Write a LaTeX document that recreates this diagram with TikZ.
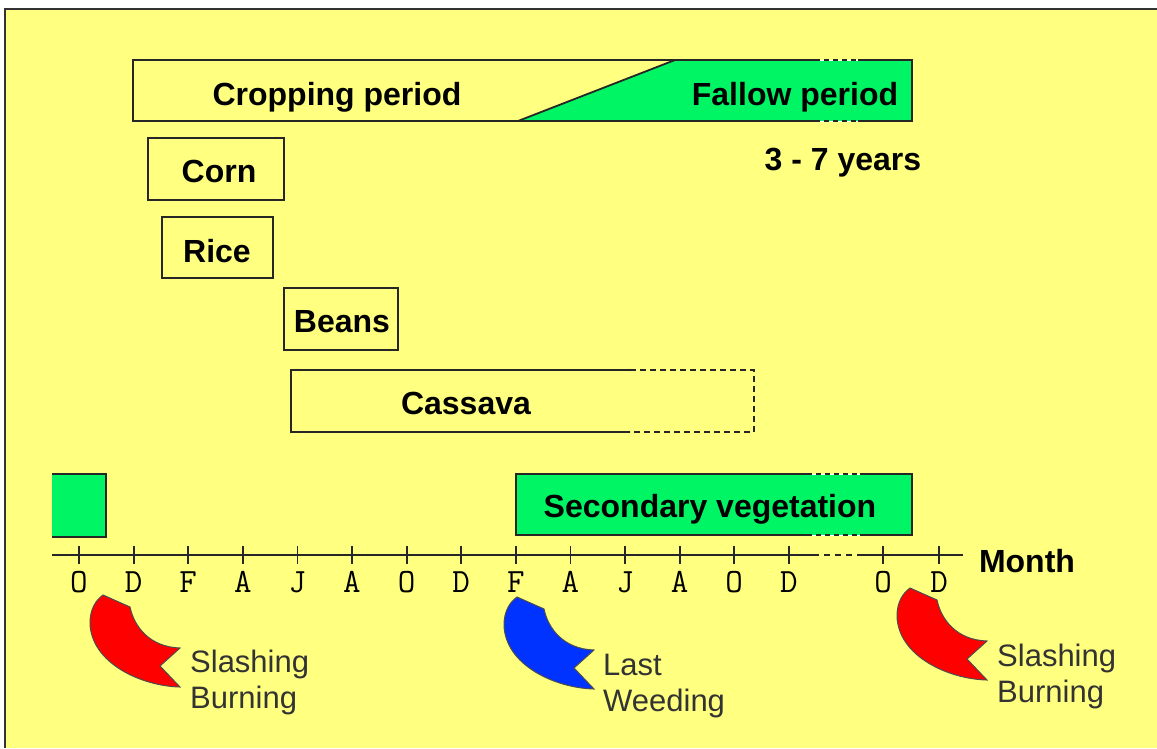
\documentclass[tikz,border=0pt]{standalone}
\usepackage{fontspec}
\setmainfont{Liberation Sans}
\usepackage{tikz}
\definecolor{paper}{RGB}{255,255,128}
\definecolor{fallow}{RGB}{0,245,100}
\definecolor{burnred}{RGB}{255,0,0}
\definecolor{weedblue}{RGB}{0,51,255}

\begin{document}
\begin{tikzpicture}[x=1pt, y=-1pt,
  big/.style={font=\fontsize{32}{38}\selectfont\bfseries, anchor=base},
  note/.style={font=\fontsize{31}{36}\selectfont, text=black!80, align=left, anchor=west, inner sep=0pt},
  month/.style={font=\ttfamily\fontsize{34}{40}\selectfont, anchor=base, inner sep=0pt},
  frame/.style={line width=1.8pt, black!85},
  breakline/.style={line width=1.8pt, black!85, dash pattern=on 5pt off 4pt,
    preaction={draw=white, solid}}]
  \useasboundingbox (0,0) rectangle (1157,748);
  \fill[white] (0,0) rectangle (1157,748);
  \fill[paper] (5,9) rectangle (1157,748);
  \draw[line width=2pt, black!80] (5,748) -- (5,9) -- (1157,9);

  % CROPPING / FALLOW — top bar
  \fill[fallow] (518,121) -- (675,60) -- (912,60) -- (912,121) -- cycle;
  \draw[frame] (518,121) -- (675,60);
  \draw[frame] (815,60) -- (133,60) -- (133,121) -- (815,121);
  \draw[frame] (858,60) -- (912,60) -- (912,121) -- (858,121);
  \draw[breakline] (815,60) -- (858,60) (815,121) -- (858,121);
  \node[big] (crop) at (337,105) {Cropping period};
  \node[big] (fallow) at (795,105) {Fallow period};
  \node[big] (years) at (843,170) {3 - 7 years};

  % CROPS
  \draw[frame] (148,138) rectangle (284,200);
  \node[big] (corn) at (219,182) {Corn};
  \draw[frame] (162,217) rectangle (273,278);
  \node[big] (rice) at (217,262) {Rice};
  \draw[frame] (284,288) rectangle (398,350);
  \node[big] (beans) at (342,332) {Beans};
  \draw[frame] (630,370) -- (291,370) -- (291,432) -- (630,432);
  \draw[frame, dash pattern=on 6pt off 4pt] (630,370) -- (754,370) -- (754,432) -- (630,432);
  \node[big] (cassava) at (466,414) {Cassava};

  % SECONDARY VEGETATION
  \fill[fallow] (52,474) rectangle (106,537);
  \draw[frame] (52,474) -- (106,474) -- (106,537) -- (52,537);
  \fill[fallow] (516,474) rectangle (912,535);
  \draw[frame] (807,474) -- (516,474) -- (516,535) -- (807,535);
  \draw[frame] (860,474) -- (912,474) -- (912,535) -- (860,535);
  \draw[breakline] (807,474) -- (860,474) (807,535) -- (860,535);
  \node[big] (secveg) at (710,517) {Secondary vegetation};

  % MONTH AXIS
  \draw[frame] (52,555) -- (813,555) (863,555) -- (963,555);
  \draw[frame, dash pattern=on 6pt off 5pt] (813,555) -- (863,555);
  \foreach \i in {0,...,13}
    \draw[frame] (79+54.6*\i,546) -- ++(0,18);
  \foreach \x in {883,939}
    \draw[frame] (\x,546) -- ++(0,18);
  \foreach \m [count=\i from 0] in {O,D,F,A,J,A,O,D,F,A,J,A,O,D}
    \node[month] (m\i) at (79+54.6*\i,592) {\m};
  \node[month] (m14) at (883,592) {O};
  \node[month] (m15) at (939,592) {D};
  \node[big] (month) at (1027,572) {Month};

  % EVENTS
  \foreach \c/\p in {burnred/{103,595}, weedblue/{517,597}, burnred/{910,588}}
    \filldraw[fill=\c, draw=black!70, line width=1pt, shift={(\p)}]
      (0,0) -- (27,12) .. controls (31,31) and (46,52) .. (77,53)
      -- (57,71) -- (77,92) .. controls (38,91) and (-12,68) .. (-13,28)
      .. controls (-13,14) and (-7,5) .. (0,0) -- cycle;
  \node[note] (slash1) at (190,682) {Slashing\\Burning};
  \node[note] (weed) at (603,686) {Last\\Weeding};
  \node[note] (slash2) at (997,676) {Slashing\\Burning};
\end{tikzpicture}
\end{document}
